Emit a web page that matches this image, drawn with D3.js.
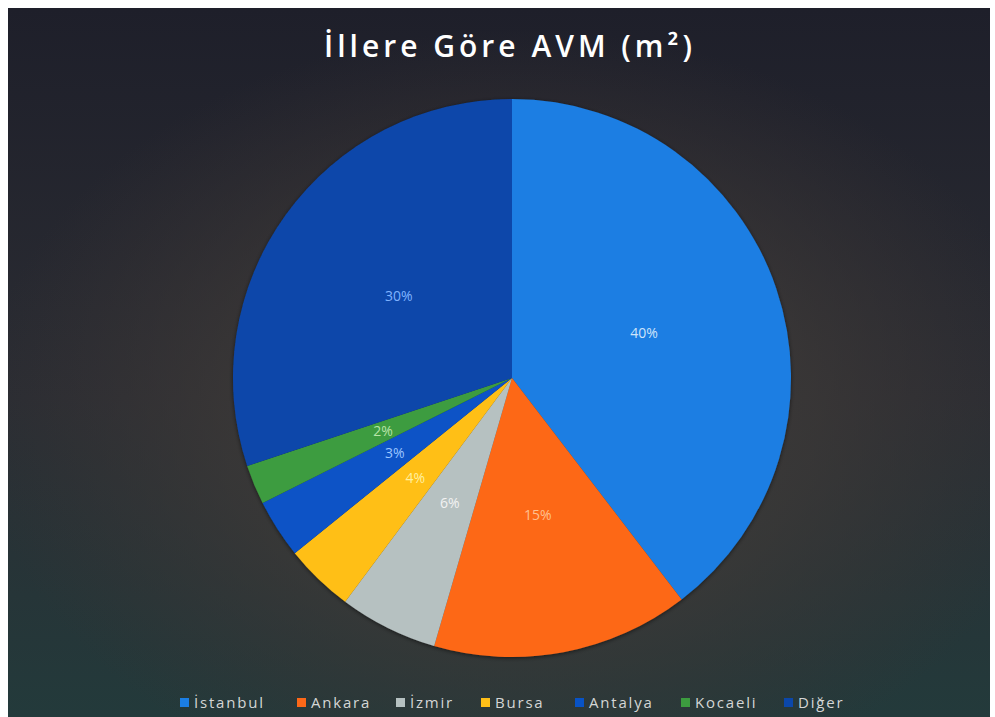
<!DOCTYPE html>
<html>
<head>
<meta charset="utf-8">
<script src="https://cdn.jsdelivr.net/npm/d3@7"></script>
<style>
html,body{margin:0;padding:0;background:#fff;}
svg{display:block;}
</style>
</head>
<body>
<svg id="chart" width="995" height="717"></svg>
<script>
const title = "İllere Göre AVM (m²)";
const categories = ["İstanbul", "Ankara", "İzmir", "Bursa", "Antalya", "Kocaeli", "Diğer"];
const values = [39.6, 14.9, 5.7, 4.0, 3.4, 2.3, 30.1];
const labels = ["40%", "15%", "6%", "4%", "3%", "2%", "30%"];
const colors = ["#1b7ee3", "#fd6818", "#b6c1c1", "#ffbf18", "#0853c6", "#3c9c3f", "#0b47aa"];
const labelColors = ["#cfe4fa", "#ffc08f", "#f2f2f2", "#fff0a0", "#9cc6ff", "#b8e4a8", "#7fb3ff"];

const W = 995, H = 717;
const svg = d3.select("#chart");
const defs = svg.append("defs");

const lg = defs.append("linearGradient").attr("id", "bgLin").attr("x1", 0).attr("y1", 0).attr("x2", 0).attr("y2", 1);
lg.append("stop").attr("offset", "0%").attr("stop-color", "#1e1f2a");
lg.append("stop").attr("offset", "55%").attr("stop-color", "#2b2d33");
lg.append("stop").attr("offset", "100%").attr("stop-color", "#233a3b");

const rg = defs.append("radialGradient").attr("id", "bgRad")
  .attr("cx", 0.52).attr("cy", 0.58).attr("r", 0.55);
rg.append("stop").attr("offset", "0%").attr("stop-color", "#45423f").attr("stop-opacity", 0.95);
rg.append("stop").attr("offset", "55%").attr("stop-color", "#3d3937").attr("stop-opacity", 0.7);
rg.append("stop").attr("offset", "100%").attr("stop-color", "#3a3333").attr("stop-opacity", 0);

const sh = defs.append("filter").attr("id", "shadow").attr("x", "-10%").attr("y", "-10%").attr("width", "120%").attr("height", "120%");
sh.append("feDropShadow").attr("dx", 0).attr("dy", 1).attr("stdDeviation", 2).attr("flood-color", "#000").attr("flood-opacity", 0.55);

svg.append("rect").attr("x", 0).attr("y", 0).attr("width", W).attr("height", H).attr("fill", "#ffffff");
svg.append("rect").attr("x", 8).attr("y", 8).attr("width", 982).attr("height", H - 8).attr("fill", "url(#bgLin)");
svg.append("rect").attr("x", 8).attr("y", 8).attr("width", 982).attr("height", H - 8).attr("fill", "url(#bgRad)");

svg.append("text")
  .attr("x", 510).attr("y", 57)
  .attr("text-anchor", "middle")
  .attr("fill", "#ffffff")
  .style("font-family", "'Open Sans', sans-serif")
  .style("font-weight", 600)
  .style("font-size", "30px")
  .style("letter-spacing", "4px")
  .text(title);

const cx = 512, cy = 378, R = 279;
const pie = d3.pie().sort(null).value(d => d.v);
const data = categories.map((c, i) => ({ c, v: values[i], i }));
const arcs = pie(data);
const arc = d3.arc().innerRadius(0).outerRadius(R);

const g = svg.append("g").attr("transform", `translate(${cx},${cy})`);
g.append("g").attr("filter", "url(#shadow)")
  .selectAll("path").data(arcs).join("path")
  .attr("d", arc)
  .attr("fill", d => colors[d.data.i]);

g.selectAll("text.lbl").data(arcs).join("text")
  .attr("class", "lbl")
  .attr("transform", d => `translate(${arc.centroid(d)})`)
  .attr("text-anchor", "middle")
  .attr("dy", "0.35em")
  .attr("fill", d => labelColors[d.data.i])
  .style("font-family", "'Open Sans', sans-serif")
  .style("font-size", "14px")
  .text(d => labels[d.data.i]);

// legend
const legendX = [180, 297, 396, 481, 575, 681, 784];
const lgd = svg.append("g");
const items = lgd.selectAll("g").data(categories).join("g")
  .attr("transform", (d, i) => `translate(${legendX[i]},703)`);
items.append("rect").attr("x", 0).attr("y", -5).attr("width", 9).attr("height", 9)
  .attr("fill", (d, i) => colors[i]);
items.append("text").attr("x", 14).attr("y", 0).attr("dy", "0.35em")
  .attr("fill", "#d4d6d6")
  .style("font-family", "'Open Sans', sans-serif")
  .style("font-size", "15px")
  .style("letter-spacing", "1.8px")
  .text(d => d);
</script>
</body>
</html>
